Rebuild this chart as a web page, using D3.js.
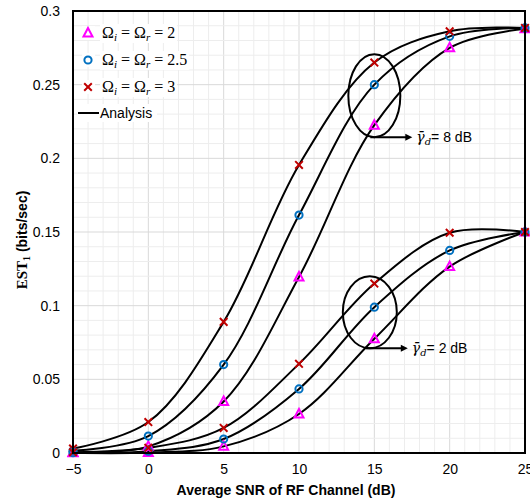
<!DOCTYPE html>
<html><head><meta charset="utf-8">
<script src="https://cdnjs.cloudflare.com/ajax/libs/d3/7.8.5/d3.min.js"></script>
<style>body{margin:0;background:#fff}svg{display:block}</style>
</head><body>
<svg id="c" width="530" height="503"></svg>
<script>
const snr = [-5, 0, 5, 10, 15, 20, 25];
const high3  = [0.003, 0.021, 0.089, 0.1955, 0.265, 0.2862, 0.2885];
const high25 = [0.0015, 0.0115, 0.060, 0.1615, 0.250, 0.2828, 0.2885];
const high2  = [0.0004, 0.0045, 0.035, 0.1195, 0.2225, 0.275, 0.288];
const low3   = [0.0005, 0.0035, 0.017, 0.0605, 0.115, 0.1495, 0.150];
const low25  = [0.0002, 0.0012, 0.0095, 0.0435, 0.099, 0.1375, 0.150];
const low2   = [0.0001, 0.0003, 0.0045, 0.0265, 0.0775, 0.1265, 0.150];
const xTicks = [-5, 0, 5, 10, 15, 20, 25];
const yTicks = [0, 0.05, 0.1, 0.15, 0.2, 0.25, 0.3];
const yTickLabels = ["0", "0.05", "0.1", "0.15", "0.2", "0.25", "0.3"];
const legendLabels = ["2", "2.5", "3"];
const annotations = [{x: 15, y: 0.2425, label: "8 dB"}, {x: 14.7, y: 0.0955, label: "2 dB"}];

const series = [
  {v: high2, m: "tri"}, {v: high25, m: "circ"}, {v: high3, m: "x"},
  {v: low2, m: "tri"}, {v: low25, m: "circ"}, {v: low3, m: "x"}
];

const svg = d3.select("#c");
const L = 73, R = 525, T = 11, B = 453;
const x = d3.scaleLinear().domain([-5, 25]).range([L, R]);
const y = d3.scaleLinear().domain([0, 0.3]).range([B, T]);

// grid
const g = svg.append("g");
d3.range(-5, 25.01, 1).forEach(v => {
  g.append("line").attr("x1", x(v)).attr("x2", x(v)).attr("y1", T).attr("y2", B)
   .attr("stroke", v % 5 === 0 ? "#d9d9d9" : "#ededed").attr("stroke-width", 1);
});
d3.range(0, 31, 1).forEach(i => {
  const v = i / 100;
  g.append("line").attr("x1", L).attr("x2", R).attr("y1", y(v)).attr("y2", y(v))
   .attr("stroke", i % 5 === 0 ? "#d9d9d9" : "#ededed").attr("stroke-width", 1);
});

// axes
const xa = svg.append("g").attr("transform", `translate(0,${B})`)
  .call(d3.axisBottom(x).tickValues(xTicks).tickSize(0).tickPadding(11).tickFormat(d3.format("d")));
const ya = svg.append("g").attr("transform", `translate(${L},0)`)
  .call(d3.axisLeft(y).tickValues(yTicks).tickSize(0).tickPadding(13).tickFormat((d, i) => yTickLabels[i]));
[xa, ya].forEach(a => {
  a.select(".domain").remove();
  a.selectAll("text").attr("font-family", "Liberation Sans, Arial, sans-serif").attr("font-size", 14).attr("fill", "#000");
});

// curves
const line = d3.line().x((d, i) => x(snr[i])).y(d => y(d)).curve(d3.curveCatmullRom.alpha(0.5));
series.forEach(s => {
  svg.append("path").attr("d", line(s.v)).attr("fill", "none").attr("stroke", "#000").attr("stroke-width", 2);
});

// markers
function marker(sel, type, cx, cy) {
  if (type === "tri") {
    sel.append("path").attr("d", `M${cx},${cy - 5}L${cx + 4.5},${cy + 3.5}L${cx - 4.5},${cy + 3.5}Z`)
      .attr("fill", "none").attr("stroke", "#ff00ff").attr("stroke-width", 2);
  } else if (type === "circ") {
    sel.append("circle").attr("cx", cx).attr("cy", cy).attr("r", 3.6)
      .attr("fill", "none").attr("stroke", "#0070c0").attr("stroke-width", 2);
  } else {
    sel.append("path").attr("d", `M${cx - 3.8},${cy - 3.8}L${cx + 3.8},${cy + 3.8}M${cx - 3.8},${cy + 3.8}L${cx + 3.8},${cy - 3.8}`)
      .attr("stroke", "#c00000").attr("stroke-width", 2);
  }
}
const mg = svg.append("g");
series.forEach(s => s.v.forEach((v, i) => marker(mg, s.m, x(snr[i]), y(v))));

// ellipses & annotations
const ell = [{rx: 26, ry: 41.5}, {rx: 27, ry: 36}];
annotations.forEach((a, k) => {
  const cx = x(a.x), cy = y(a.y);
  svg.append("ellipse").attr("cx", cx).attr("cy", cy).attr("rx", ell[k].rx).attr("ry", ell[k].ry)
    .attr("fill", "none").attr("stroke", "#000").attr("stroke-width", 2);
  const yb = cy + ell[k].ry;
  const x0 = cx - 4, x1 = x0 + 42;
  svg.append("line").attr("x1", x0).attr("x2", x1 - 6).attr("y1", yb).attr("y2", yb).attr("stroke", "#000").attr("stroke-width", 2);
  svg.append("path").attr("d", `M${x1},${yb}L${x1 - 7},${yb - 3.5}L${x1 - 7},${yb + 3.5}Z`).attr("fill", "#000");
  const t = svg.append("text").attr("x", x1 + 4).attr("y", yb + 5).attr("font-size", 14);
  t.append("tspan").attr("font-family", "DejaVu Serif, serif").attr("font-style", "italic").attr("font-size", 14).text("γ\u0304");
  t.append("tspan").attr("font-family", "DejaVu Serif, serif").attr("font-style", "italic").attr("font-size", 10).attr("dy", 3).text("d");
  t.append("tspan").attr("font-family", "Liberation Sans, Arial, sans-serif").attr("dy", -3).text("= " + a.label);
});

// frame
svg.append("rect").attr("x", L).attr("y", T).attr("width", R - L).attr("height", B - T)
  .attr("fill", "none").attr("stroke", "#000").attr("stroke-width", 2);

// legend
const lg = svg.append("g");
const types = ["tri", "circ", "x"];
legendLabels.forEach((lab, i) => {
  const cy = 33 + i * 27;
  const t = lg.append("text").attr("x", 102).attr("y", cy + 5).attr("font-family", "Liberation Serif, serif").attr("font-size", 16);
  t.append("tspan").text("Ω");
  t.append("tspan").attr("font-style", "italic").attr("font-size", 11).attr("dy", 3).text("i");
  t.append("tspan").attr("dy", -3).text(" = Ω");
  t.append("tspan").attr("font-style", "italic").attr("font-size", 11).attr("dy", 3).text("r");
  t.append("tspan").attr("dy", -3).text(" = " + lab);
  const bb = t.node().getBBox();
  lg.insert("rect", "text").attr("x", bb.x - 2).attr("y", bb.y).attr("width", bb.width + 4).attr("height", bb.height).attr("fill", "#fff");
  lg.append("rect").attr("x", 82).attr("y", cy - 7).attr("width", 13).attr("height", 14).attr("fill", "#fff");
  marker(lg, types[i], 88, cy);
});
{
  const cy = 113;
  lg.append("rect").attr("x", 77).attr("y", cy - 9).attr("width", 80).attr("height", 18).attr("fill", "#fff");
  lg.append("line").attr("x1", 78).attr("x2", 99).attr("y1", cy).attr("y2", cy).attr("stroke", "#000").attr("stroke-width", 2);
  lg.append("text").attr("x", 100).attr("y", cy + 5).attr("font-family", "Liberation Sans, Arial, sans-serif").attr("font-size", 14).text("Analysis");
}

// axis titles
svg.append("text").attr("x", 286).attr("y", 495).attr("text-anchor", "middle")
  .attr("font-family", "Liberation Sans, Arial, sans-serif").attr("font-weight", "bold").attr("font-size", 14)
  .text("Average SNR of RF Channel (dB)");
const yl = svg.append("text").attr("transform", "translate(27,240) rotate(-90)").attr("text-anchor", "middle")
  .attr("font-weight", "bold").attr("font-size", 14);
yl.append("tspan").attr("font-family", "Liberation Serif, serif").attr("font-size", 15).text("EST");
yl.append("tspan").attr("font-family", "Liberation Serif, serif").attr("font-size", 10).attr("dy", 3).text("1");
yl.append("tspan").attr("font-family", "Liberation Sans, Arial, sans-serif").attr("dy", -3).text(" (bits/sec)");
</script>
</body></html>
